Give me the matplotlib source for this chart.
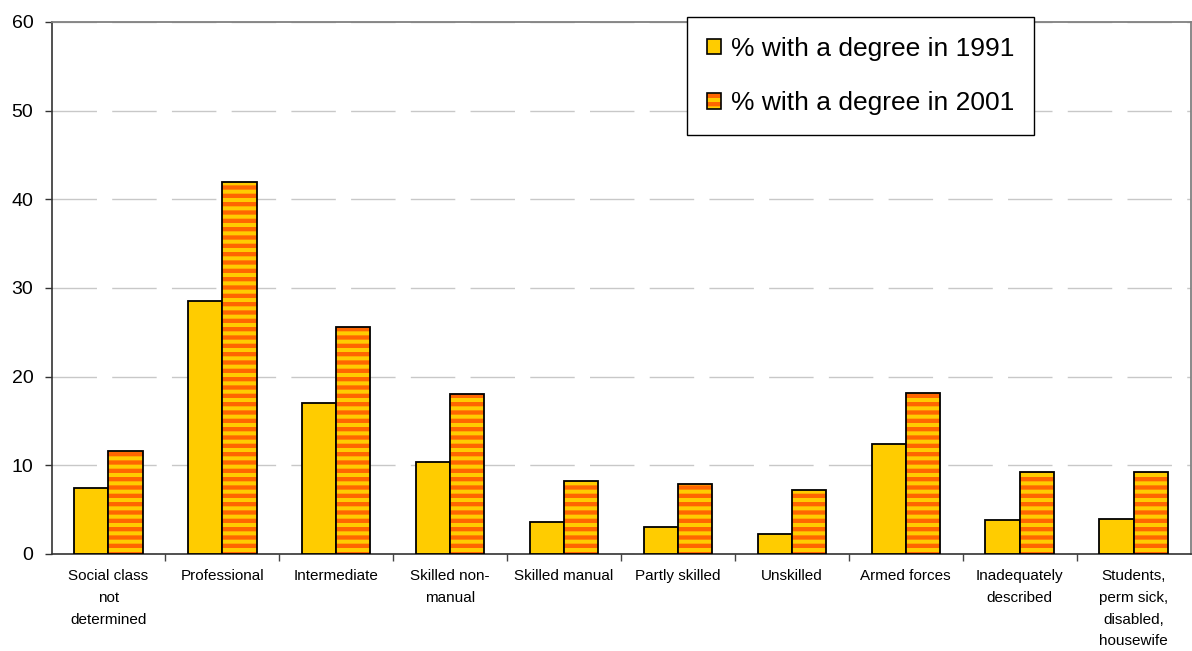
import numpy as np
import matplotlib.pyplot as plt
from matplotlib.patches import Patch

plt.rcParams['font.family'] = ['Liberation Sans', 'DejaVu Sans']
plt.rcParams['hatch.linewidth'] = 3.1

categories = ['Social class\nnot\ndetermined', 'Professional', 'Intermediate',
              'Skilled non-\nmanual', 'Skilled manual', 'Partly skilled',
              'Unskilled', 'Armed forces', 'Inadequately\ndescribed',
              'Students,\nperm sick,\ndisabled,\nhousewife']
degree_1991 = [7.5, 28.5, 17.0, 10.4, 3.6, 3.1, 2.2, 12.4, 3.8, 4.0]
degree_2001 = [11.6, 41.9, 25.6, 18.1, 8.2, 7.9, 7.2, 18.2, 9.2, 9.2]

yellow = '#FFCC00'
orange = '#FF6600'

fig = plt.figure(figsize=(11.92, 6.51), dpi=100)
ax = fig.add_axes([51.5 / 1192, 97 / 651, 1139 / 1192, 532 / 651])

x = np.arange(len(categories))
w = 0.3

ax.bar(x - w / 2, degree_1991, w, color=yellow, edgecolor='black',
       linewidth=1.3, zorder=3)
# striped 2001 bars: hatch layer first, black outline on top
ax.bar(x + w / 2, degree_2001, w, color=yellow, edgecolor=orange,
       hatch='--', linewidth=0, zorder=3)
ax.bar(x + w / 2, degree_2001, w, fill=False, edgecolor='black',
       linewidth=1.3, zorder=4)

ax.set_xlim(-0.5, 9.5)
ax.set_ylim(0, 60)
ax.set_yticks(range(0, 61, 10))
ax.tick_params(axis='y', labelsize=14, length=5, width=1, color='#333333',
               pad=8)

ax.set_xticks(x)
ax.set_xticklabels(categories, fontsize=11, linespacing=1.7)
ax.set_xticks(np.arange(0.5, 9.5, 1), minor=True)
ax.tick_params(axis='x', which='major', length=0, pad=11)
ax.tick_params(axis='x', which='minor', length=5, width=1, color='#444444')

ax.yaxis.grid(True, color='#C8C8C8', linewidth=1.0, linestyle=(0, (32, 11)),
              zorder=0)
ax.set_axisbelow(True)

for side in ['top', 'right']:
    ax.spines[side].set_color('#808080')
    ax.spines[side].set_linewidth(1.3)
for side in ['left', 'bottom']:
    ax.spines[side].set_color('#333333')
    ax.spines[side].set_linewidth(1.2)

h1 = Patch(facecolor=yellow, edgecolor='black', linewidth=1.2)
h2a = Patch(facecolor=yellow, edgecolor=orange, hatch='--', linewidth=0)
h2b = Patch(fill=False, edgecolor='black', linewidth=1.2)
leg = ax.legend([h1, (h2a, h2b)],
                ['% with a degree in 1991', '% with a degree in 2001'],
                loc='upper left', bbox_to_anchor=(687 / 1192, 1 - 17 / 651),
                bbox_transform=fig.transFigure, borderaxespad=0,
                fontsize=19, frameon=True, fancybox=False, framealpha=1,
                edgecolor='black', handlelength=0.55, handleheight=0.55,
                handletextpad=0.35, labelspacing=1.15, borderpad=0.75)
leg.get_frame().set_linewidth(1.0)
leg.set_zorder(10)

fig.savefig('out.png', dpi=100)
